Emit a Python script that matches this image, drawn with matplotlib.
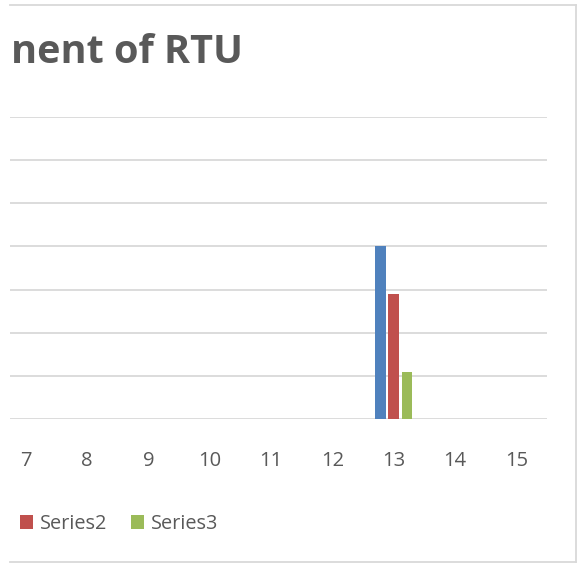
import matplotlib
matplotlib.use("Agg")
import matplotlib.pyplot as plt
from matplotlib.lines import Line2D
import numpy as np

categories = list(range(1, 16))
series1 = [0, 0, 0, 0, 0, 0, 0, 0, 0, 0, 0, 0, 4.0, 0, 0]
series2 = [0, 0, 0, 0, 0, 0, 0, 0, 0, 0, 0, 0, 2.9, 0, 0]
series3 = [0, 0, 0, 0, 0, 0, 0, 0, 0, 0, 0, 0, 1.08, 0, 0]
series_names = ["Series1", "Series2", "Series3"]
title_text = "nent of RTU"

colors = ["#4F81BD", "#C0504D", "#9BBB59"]
grid_c = "#D9D9D9"
text_c = "#595959"
FONT = ["Open Sans", "DejaVu Sans"]
plt.rcParams["font.family"] = FONT

W, H = 577, 563
fig = plt.figure(figsize=(W / 100, H / 100), dpi=100)

def fx(px):
    return px / W

def fy(py):
    return 1 - py / H

ax = fig.add_axes([fx(10), fy(419), fx(547) - fx(10), fy(117) - fy(419)])
x = np.array(categories, dtype=float)
off = 0.217
bw = 0.175
containers = []
for i, (vals, name) in enumerate(zip([series1, series2, series3], series_names)):
    vals = np.array(vals)
    mask = vals > 0
    c = ax.bar(x[mask] + (i - 1) * off, vals[mask], width=bw, color=colors[i], label=name, zorder=3)
    containers.append(c)

ax.set_yticks(range(0, 8))
ax.set_yticklabels([])
ax.set_xticks(categories)
ax.set_xticklabels([str(c) for c in categories])
ax.set_xlim(6.744, 15.5)
ax.set_ylim(0, 7)
ax.tick_params(axis="y", length=0)
ax.tick_params(axis="x", length=0, pad=23, labelsize=14.5, labelcolor=text_c)
ax.grid(axis="y", color=grid_c, linewidth=1.3, zorder=0)
for s in ax.spines.values():
    s.set_visible(False)
ax.set_facecolor("none")

fig.text(fx(243), fy(63), title_text, ha="right", va="baseline", fontsize=28.5,
         fontweight="bold", color=text_c)

leg = fig.legend(handles=[containers[1], containers[2]], labels=series_names[1:],
                 loc="center left", bbox_to_anchor=(fx(20), fy(524)), frameon=False,
                 borderpad=0, borderaxespad=0, fontsize=14.3, handlelength=0.65,
                 handleheight=0.65, handletextpad=0.35, columnspacing=1.2, ncol=2,
                 labelcolor=text_c)

# chart border (left edge cropped)
fig.add_artist(Line2D([fx(10), fx(575.5)], [fy(5), fy(5)], color=grid_c, lw=1.3))
fig.add_artist(Line2D([fx(575.5), fx(575.5)], [fy(5), fy(562)], color=grid_c, lw=1.3))
fig.add_artist(Line2D([fx(10), fx(575.5)], [fy(562), fy(562)], color=grid_c, lw=1.3))

fig.savefig("out.png", dpi=100, facecolor="white")
